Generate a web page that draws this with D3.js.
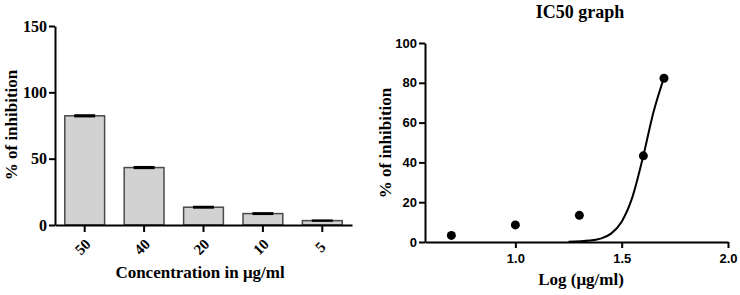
<!DOCTYPE html>
<html>
<head>
<meta charset="utf-8">
<script src="https://cdn.jsdelivr.net/npm/d3@7"></script>
<style>
  body { margin: 0; background: #fff; }
  svg text { fill: #000; }
  .serif { font-family: "Liberation Serif", "Times New Roman", serif; font-weight: bold; }
  .sans { font-family: "Liberation Sans", Arial, sans-serif; font-weight: bold; }
</style>
</head>
<body>
<div id="chart-container"></div>
<script>
// Bar chart data
const concLabels = ["50", "40", "20", "10", "5"];
const inhibition = [82.3, 43.3, 13.4, 8.6, 3.3];
const inhibitionErr = [1.2, 1.2, 1.1, 1.1, 0.9];
const barTicks = [0, 50, 100, 150];

// IC50 data (log concentration, same order as concLabels)
const logConc = [1.699, 1.602, 1.301, 1.0, 0.699];
const icTicksX = [1.0, 1.5, 2.0];
const icTicksY = [0, 20, 40, 60, 80, 100];
// fitted curve
const curveX = [1.25, 1.35, 1.40, 1.45, 1.50, 1.55, 1.60, 1.65, 1.699];
const curveY = [0.1, 0.7, 1.7, 4.2, 10.2, 22.4, 42.5, 65.4, 82.6];

const svg = d3.select("#chart-container").append("svg")
    .attr("width", 740)
    .attr("height", 295);

// ---------- Left: bar chart ----------
const x1 = d3.scaleBand()
    .domain(concLabels)
    .range([55, 352])
    .paddingInner(0.33)
    .paddingOuter(0.165);

const y1 = d3.scaleLinear()
    .domain([0, 150])
    .range([225, 26]);

svg.selectAll(".bar")
    .data(inhibition)
    .enter().append("rect")
    .attr("class", "bar")
    .attr("x", (d, i) => x1(concLabels[i]))
    .attr("y", d => y1(d))
    .attr("width", x1.bandwidth())
    .attr("height", d => y1(0) - y1(d))
    .style("fill", "#d2d2d2")
    .style("stroke", "#4a4a4a")
    .style("stroke-width", 1.5);

// error bars (tiny, drawn as thick caps)
svg.selectAll(".err")
    .data(inhibition)
    .enter().append("rect")
    .attr("class", "err")
    .attr("x", (d, i) => x1(concLabels[i]) + x1.bandwidth() / 2 - 10.5)
    .attr("y", (d, i) => y1(d + inhibitionErr[i]))
    .attr("width", 21)
    .attr("height", (d, i) => y1(d - inhibitionErr[i]) - y1(d + inhibitionErr[i]))
    .style("fill", "#000");

const yAxis1 = svg.append("g")
    .attr("transform", "translate(55,0)")
    .call(d3.axisLeft(y1).tickValues(barTicks).tickSize(6).tickSizeOuter(0).tickPadding(2));
yAxis1.selectAll("text").attr("class", "serif").style("font-size", "16px");

const xAxis1 = svg.append("g")
    .attr("transform", "translate(0,225)")
    .call(d3.axisBottom(x1).tickSize(7).tickSizeOuter(0));
xAxis1.selectAll("text")
    .attr("class", "serif")
    .style("font-size", "15px")
    .attr("text-anchor", "middle")
    .attr("dominant-baseline", "central")
    .attr("y", 0)
    .attr("dy", 0)
    .attr("transform", "translate(-2,22) rotate(-45)");

[yAxis1, xAxis1].forEach(a => {
    a.select(".domain").style("stroke-width", 2);
    a.selectAll(".tick line").style("stroke-width", 2);
});

svg.append("text")
    .attr("class", "serif")
    .attr("transform", "rotate(-90)")
    .attr("x", -125)
    .attr("y", 17)
    .attr("text-anchor", "middle")
    .style("font-size", "17px")
    .text("% of inhibition");

svg.append("text")
    .attr("class", "serif")
    .attr("x", 200)
    .attr("y", 278)
    .attr("text-anchor", "middle")
    .style("font-size", "17px")
    .text("Concentration in μg/ml");

// ---------- Right: IC50 graph ----------
const x2 = d3.scaleLinear()
    .domain([0.575, 2.0])
    .range([425, 728]);

const y2 = d3.scaleLinear()
    .domain([0, 100])
    .range([242, 43]);

const yAxis2 = svg.append("g")
    .attr("transform", "translate(425,0)")
    .call(d3.axisLeft(y2).tickValues(icTicksY).tickSize(6).tickSizeOuter(0).tickPadding(2));
yAxis2.selectAll("text").attr("class", "sans").style("font-size", "13px");

const xAxis2 = svg.append("g")
    .attr("transform", "translate(0,242)")
    .call(d3.axisBottom(x2).tickValues(icTicksX).tickFormat(d3.format(".1f")).tickSize(6).tickSizeOuter(0).tickPadding(6));
xAxis2.selectAll("text").attr("class", "sans").style("font-size", "13px");

[yAxis2, xAxis2].forEach(a => {
    a.select(".domain").style("stroke-width", 2);
    a.selectAll(".tick line").style("stroke-width", 2);
});

const line = d3.line()
    .x((d, i) => x2(curveX[i]))
    .y(d => y2(d))
    .curve(d3.curveMonotoneX);

svg.append("path")
    .datum(curveY)
    .attr("d", line)
    .style("fill", "none")
    .style("stroke", "#000")
    .style("stroke-width", 2);

svg.selectAll(".dot")
    .data(inhibition)
    .enter().append("circle")
    .attr("class", "dot")
    .attr("cx", (d, i) => x2(logConc[i]))
    .attr("cy", d => y2(d))
    .attr("r", 4.5)
    .style("fill", "#000");

svg.append("text")
    .attr("class", "serif")
    .attr("x", 580)
    .attr("y", 18)
    .attr("text-anchor", "middle")
    .style("font-size", "18px")
    .text("IC50 graph");

svg.append("text")
    .attr("class", "serif")
    .attr("transform", "rotate(-90)")
    .attr("x", -143)
    .attr("y", 391)
    .attr("text-anchor", "middle")
    .style("font-size", "17px")
    .text("% of inhibition");

svg.append("text")
    .attr("class", "serif")
    .attr("x", 581)
    .attr("y", 285)
    .attr("text-anchor", "middle")
    .style("font-size", "17px")
    .text("Log (μg/ml)");
</script>
</body>
</html>
